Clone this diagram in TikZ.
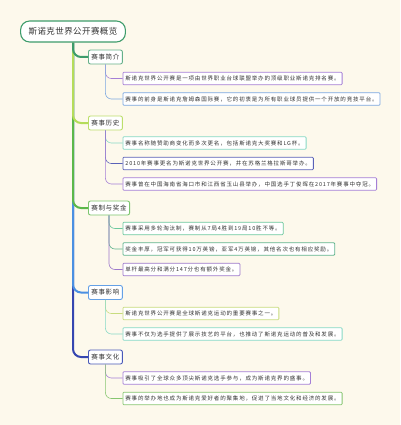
\documentclass[tikz,border=0pt]{standalone}
\usepackage{fontspec}
\newfontfamily\rootfont[LetterSpace=5]{Noto Sans CJK SC}
\newfontfamily\catfont[LetterSpace=10]{Noto Sans CJK SC}
\newfontfamily\leaffont[LetterSpace=15]{Noto Sans CJK SC}

\definecolor{bgcream}{RGB}{253,249,236}
\definecolor{inktext}{RGB}{51,51,51}
% branch colours
\definecolor{brgreen}{RGB}{62,156,107}
\definecolor{brlime}{RGB}{181,220,90}
\definecolor{brleaf}{RGB}{92,184,74}
\definecolor{brblue}{RGB}{74,144,226}
\definecolor{brindigo}{RGB}{53,70,176}
% box colours
\definecolor{cpurple}{RGB}{165,127,214}
\definecolor{cblue}{RGB}{123,167,224}
\definecolor{cteal}{RGB}{134,217,198}
\definecolor{cindigo}{RGB}{90,98,184}
\definecolor{cmint}{RGB}{108,200,158}
\definecolor{cyellow}{RGB}{200,220,126}
\definecolor{cgreen}{RGB}{134,198,112}

\tikzset{
  rootbox/.style={draw=brgreen, line width=1.1pt, rounded corners=9pt, fill=white,
    text=inktext, font=\rootfont\fontsize{8.5}{10}\selectfont,
    minimum height=21pt, inner xsep=8pt},
  catbox/.style={draw=#1, line width=0.9pt, rounded corners=2pt, fill=white,
    text=inktext, font=\catfont\fontsize{6.5}{8}\selectfont,
    minimum height=14pt, inner xsep=3pt, anchor=west},
  leafbox/.style={draw=#1, line width=0.8pt, rounded corners=1pt, fill=white,
    text=inktext, font=\leaffont\fontsize{5.5}{7}\selectfont,
    minimum height=12.5pt, inner xsep=2.5pt, anchor=west},
  branch/.style={draw=#1, line width=2pt, rounded corners=8pt},
  twig/.style={draw=#1, line width=0.6pt, rounded corners=6pt},
}

\begin{document}
\begin{tikzpicture}[x=1pt, y=-1pt]
\fill[bgcream] (0,0) rectangle (400,425);
\useasboundingbox (0,0) rectangle (400,425);

% root and topics
\node[rootbox] (root) at (73,31.5) {斯诺克世界公开赛概览};
\node[catbox=brgreen!80] (intro) at (88,57) {赛事简介};
\node[catbox=brlime!90] (hist) at (88,123) {赛事历史};
\node[catbox=brleaf!80] (rule) at (88,208) {赛制与奖金};
\node[catbox=brblue!85] (infl) at (88,292.5) {赛事影响};
\node[catbox=brindigo!90] (cult) at (88,357) {赛事文化};

% leaves
\node[leafbox=cpurple] (intro1) at (122.5,78.5) {斯诺克世界公开赛是一项由世界职业台球联盟举办的顶级职业斯诺克排名赛。};
\node[leafbox=cblue] (intro2) at (122.5,99) {赛事的前身是斯诺克詹姆森国际赛，它的初衷是为所有职业球员提供一个开放的竞技平台。};
\node[leafbox=cteal] (hist1) at (122.5,143) {赛事名称随赞助商变化而多次更名，包括斯诺克大奖赛和LG杯。};
\node[leafbox=cindigo] (hist2) at (122.5,163.5) {2010年赛事更名为斯诺克世界公开赛，并在苏格兰格拉斯哥举办。};
\node[leafbox=cpurple] (hist3) at (122.5,184) {赛事曾在中国海南省海口市和江西省玉山县举办，中国选手丁俊晖在2017年赛事中夺冠。};
\node[leafbox=cmint] (rule1) at (122.5,228.5) {赛事采用多轮淘汰制，赛制从7局4胜到19局10胜不等。};
\node[leafbox=cmint!90!black] (rule2) at (122.5,249) {奖金丰厚，冠军可获得10万英镑，亚军4万英镑，其他名次也有相应奖励。};
\node[leafbox=cpurple!95!black] (rule3) at (122.5,269.5) {单杆最高分和满分147分也有额外奖金。};
\node[leafbox=cyellow] (infl1) at (122.5,313.5) {斯诺克世界公开赛是全球斯诺克运动的重要赛事之一。};
\node[leafbox=cteal] (infl2) at (122.5,334) {赛事不仅为选手提供了展示技艺的平台，也推动了斯诺克运动的普及和发展。};
\node[leafbox=cpurple] (cult1) at (122.5,378) {赛事吸引了全球众多顶尖斯诺克选手参与，成为斯诺克界的盛事。};
\node[leafbox=cgreen] (cult2) at (122.5,398.5) {赛事的举办地也成为斯诺克爱好者的聚集地，促进了当地文化和经济的发展。};

% branches, last one first
\draw[branch=brindigo] (root.south) |- (cult.west);
\draw[branch=brblue] (root.south) |- (infl.west);
\draw[branch=brleaf] (root.south) |- (rule.west);
\draw[branch=brlime] (root.south) |- (hist.west);
\draw[branch=brgreen] (root.south) |- (intro.west);

% twigs
\draw[twig=cpurple] (intro.south) |- (intro1.west);
\draw[twig=cblue] (intro.south) |- (intro2.west);
\draw[twig=cteal] (hist.south) |- (hist1.west);
\draw[twig=cindigo] (hist.south) |- (hist2.west);
\draw[twig=cpurple] (hist.south) |- (hist3.west);
\draw[twig=cmint] (rule.south) |- (rule1.west);
\draw[twig=cmint!90!black] (rule.south) |- (rule2.west);
\draw[twig=cpurple!95!black] (rule.south) |- (rule3.west);
\draw[twig=cyellow] (infl.south) |- (infl1.west);
\draw[twig=cteal] (infl.south) |- (infl2.west);
\draw[twig=cpurple] (cult.south) |- (cult1.west);
\draw[twig=cgreen] (cult.south) |- (cult2.west);
\end{tikzpicture}
\end{document}
